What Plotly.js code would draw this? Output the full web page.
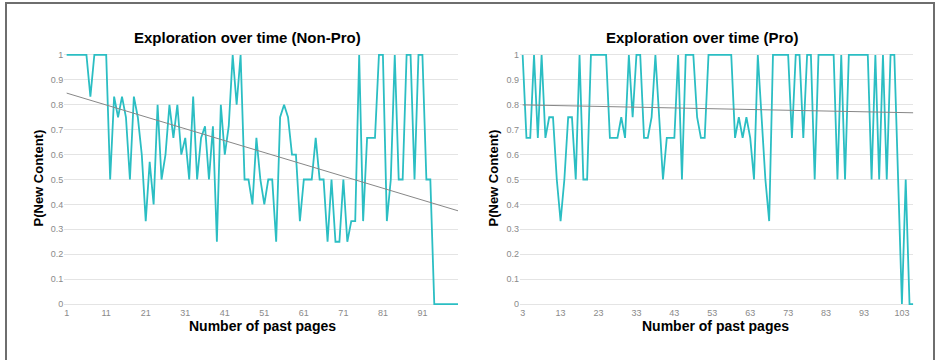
<!DOCTYPE html>
<html><head><meta charset="utf-8">
<script src="https://cdn.plot.ly/plotly-3.0.1.min.js"></script>
<style>
html,body{margin:0;padding:0;background:#fff;}
#wrap{position:relative;width:940px;height:360px;overflow:hidden;background:#fff;}
#chart{position:absolute;left:0;top:0;width:940px;height:360px;}
#frame{position:absolute;left:5px;top:2px;width:926px;height:400px;border:2px solid #6e6e6e;pointer-events:none;}
</style></head>
<body><div id="wrap"><div id="chart"></div><div id="frame"></div></div>
<script>
// ---- data ----
const nonProTitle = "Exploration over time (Non-Pro)";
const proTitle = "Exploration over time (Pro)";
const xAxisTitle = "Number of past pages";
const yAxisTitle = "P(New Content)";

const nonProFirstPage = 1;
const nonProValues = [
  1,1,1,1,1,1,0.833,1,1,1,
  1,0.5,0.833,0.75,0.833,0.75,0.5,0.833,0.75,0.6,
  0.333,0.571,0.4,0.8,0.5,0.6,0.8,0.667,0.8,0.6,
  0.667,0.5,0.833,0.5,0.667,0.714,0.5,0.714,0.25,0.8,
  0.6,0.714,1,0.8,1,0.5,0.5,0.4,0.667,0.5,
  0.4,0.5,0.5,0.25,0.75,0.8,0.75,0.6,0.6,0.333,
  0.5,0.5,0.5,0.667,0.5,0.5,0.25,0.5,0.25,0.25,
  0.5,0.25,0.333,0.333,1,0.333,0.667,0.667,0.667,1,
  1,0.333,0.5,1,0.5,0.5,1,1,0.5,1,
  1,0.5,0.5,0,0,0,0,0,0,0
];
const nonProTicks = [1,11,21,31,41,51,61,71,81,91];

const proFirstPage = 3;
const proValues = [
  1,0.667,0.667,1,0.667,1,0.667,0.75,0.75,0.5,
  0.333,0.5,0.75,0.75,0.5,1,0.5,0.5,1,1,
  1,1,1,0.667,0.667,0.667,0.75,0.667,1,0.75,
  1,1,0.667,0.667,0.75,1,0.75,0.5,0.667,0.667,
  0.667,1,0.5,1,1,1,0.75,0.667,0.667,1,
  1,1,1,1,1,1,0.667,0.75,0.667,0.75,
  0.667,0.5,1,0.75,0.5,0.333,1,1,1,1,
  1,0.667,1,1,0.667,1,1,0.5,1,1,
  1,1,1,0.5,1,0.5,1,1,1,1,
  1,1,0.5,1,0.5,1,0.5,1,1,0.5,
  0,0.5,0,0
];
const proTicks = [3,13,23,33,43,53,63,73,83,93,103];

const yTicks = [0,0.1,0.2,0.3,0.4,0.5,0.6,0.7,0.8,0.9,1];
const yTickText = ["0","0.1","0.2","0.3","0.4","0.5","0.6","0.7","0.8","0.9","1"];

// ---- helpers ----
function pages(first, n){ const a=[]; for(let i=0;i<n;i++) a.push(first+i); return a; }
function trend(xs, ys){
  const n=xs.length; let sx=0,sy=0,sxx=0,sxy=0;
  for(let i=0;i<n;i++){sx+=xs[i];sy+=ys[i];sxx+=xs[i]*xs[i];sxy+=xs[i]*ys[i];}
  const b=(n*sxy-sx*sy)/(n*sxx-sx*sx); const a=(sy-b*sx)/n;
  const x0=xs[0], x1=xs[n-1];
  return {x:[x0,x1], y:[a+b*x0, a+b*x1]};
}

const nonProX = pages(nonProFirstPage, nonProValues.length);
const proX = pages(proFirstPage, proValues.length);
const t1 = trend(nonProX, nonProValues);
const t2 = trend(proX, proValues);

const lineColor = "#2bbec3";
const trendColor = "#878787";
const FONT = "Liberation Sans, Arial, sans-serif";

const traces = [
  {x:nonProX, y:nonProValues, type:"scatter", mode:"lines", line:{color:lineColor,width:1.8}, xaxis:"x", yaxis:"y", hoverinfo:"skip"},
  {x:t1.x, y:t1.y, type:"scatter", mode:"lines", line:{color:trendColor,width:1}, xaxis:"x", yaxis:"y", hoverinfo:"skip"},
  {x:proX, y:proValues, type:"scatter", mode:"lines", line:{color:lineColor,width:1.8}, xaxis:"x2", yaxis:"y2", hoverinfo:"skip"},
  {x:t2.x, y:t2.y, type:"scatter", mode:"lines", line:{color:trendColor,width:1}, xaxis:"x2", yaxis:"y2", hoverinfo:"skip"}
];

const W=940,H=360;
const yDom=[(H-311.5)/H, (H-47.5)/H];
const tickFont={family:FONT,size:9,color:"#8a8a8a"};
const xAxisPos=(H-306)/H;

function xa(domain, range, ticks){
  return {domain:domain, range:range, anchor:"free", position:xAxisPos,
    showgrid:false, zeroline:false, showline:false, ticks:"",
    tickmode:"array", tickvals:ticks, ticktext:ticks.map(String), tickfont:tickFont, fixedrange:true};
}
function ya(anchor){
  return {domain:yDom, range:[-0.03,1.03], anchor:anchor, showgrid:true, gridcolor:"#e4e4e4", gridwidth:1,
    zeroline:false, showline:false, ticks:"", tickmode:"array", tickvals:yTicks, ticktext:yTickText,
    tickfont:tickFont, fixedrange:true};
}

const layout = {
  width:W, height:H, margin:{l:0,r:0,t:0,b:0}, showlegend:false,
  paper_bgcolor:"rgba(0,0,0,0)", plot_bgcolor:"rgba(0,0,0,0)",
  font:{family:FONT},
  xaxis: xa([64.3/W, 458/W], [0.4, 100], nonProTicks),
  yaxis: ya("x"),
  xaxis2: xa([520/W, 913.3/W], [2.3, 106], proTicks),
  yaxis2: ya("x2"),
  annotations:[
    {text:"<b>"+nonProTitle+"</b>", xref:"paper", yref:"paper", x:247/W, y:(H-38)/H, showarrow:false, xanchor:"center", yanchor:"middle", font:{family:FONT,size:15,color:"#000"}},
    {text:"<b>"+proTitle+"</b>", xref:"paper", yref:"paper", x:702/W, y:(H-38)/H, showarrow:false, xanchor:"center", yanchor:"middle", font:{family:FONT,size:15,color:"#000"}},
    {text:"<b>"+xAxisTitle+"</b>", xref:"paper", yref:"paper", x:262/W, y:(H-325.5)/H, showarrow:false, xanchor:"center", yanchor:"middle", font:{family:FONT,size:14,color:"#000"}},
    {text:"<b>"+xAxisTitle+"</b>", xref:"paper", yref:"paper", x:715/W, y:(H-325.5)/H, showarrow:false, xanchor:"center", yanchor:"middle", font:{family:FONT,size:14,color:"#000"}},
    {text:"<b>"+yAxisTitle+"</b>", xref:"paper", yref:"paper", x:38/W, y:(H-178.5)/H, textangle:-90, showarrow:false, xanchor:"center", yanchor:"middle", font:{family:FONT,size:13,color:"#000"}},
    {text:"<b>"+yAxisTitle+"</b>", xref:"paper", yref:"paper", x:493/W, y:(H-178.5)/H, textangle:-90, showarrow:false, xanchor:"center", yanchor:"middle", font:{family:FONT,size:13,color:"#000"}}
  ]
};

Plotly.newPlot("chart", traces, layout, {staticPlot:true, displayModeBar:false});
</script>
</body></html>
